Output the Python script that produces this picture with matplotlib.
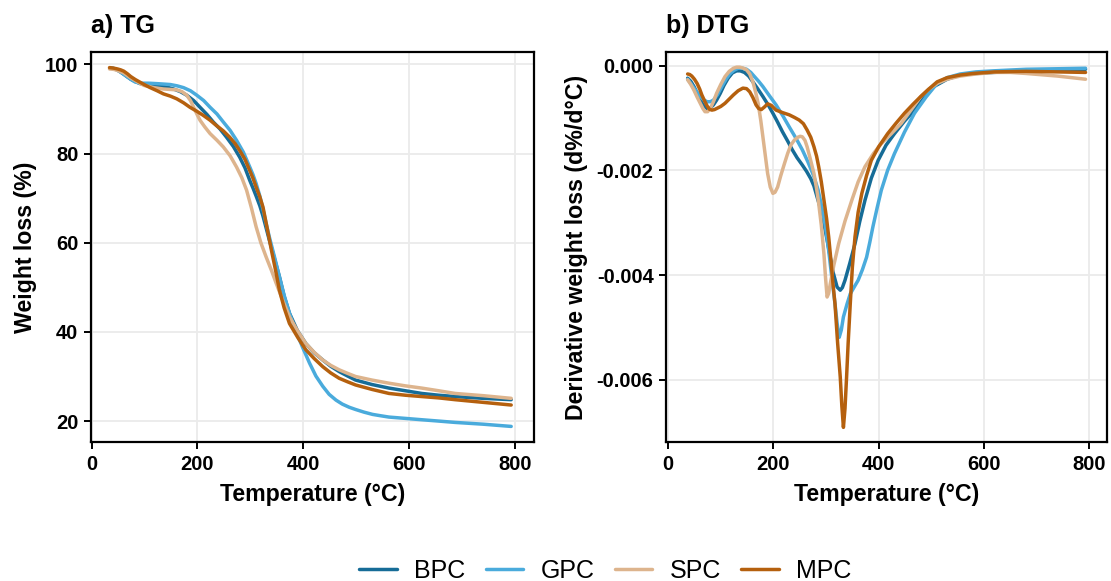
import matplotlib
matplotlib.use("Agg")
import matplotlib.pyplot as plt
from matplotlib.ticker import FuncFormatter

plt.rcParams['font.family'] = ['Liberation Sans', 'DejaVu Sans']
plt.rcParams['axes.unicode_minus'] = False

samples = ['BPC', 'GPC', 'SPC', 'MPC']
colors = {'BPC': '#166c97', 'GPC': '#4aabdc', 'SPC': '#ddb48d', 'MPC': '#b5600e'}

# TG curves (temperature in C, weight loss in %)
tg_bpc_t = [36, 42, 48, 55, 61, 68, 74, 82, 92, 108, 124, 140, 155, 168, 180, 193, 205, 218, 230,
            243, 255, 268, 280, 290, 299, 305, 311, 318, 324, 330, 336, 346, 355, 364, 374, 389,
            405, 421, 437, 452, 468, 484, 499, 530, 562, 593, 624, 656, 687, 740, 793]
tg_bpc_w = [99.2, 99.1, 98.8, 98.3, 97.8, 97.2, 96.7, 96.2, 95.7, 95.5, 95.3, 95.0, 94.5, 93.9,
            93.1, 91.9, 90.4, 88.8, 87.1, 85.5, 83.7, 81.6, 79.2, 76.8, 74.0, 72.3, 70.5, 68.3,
            66.0, 63.3, 60.6, 56.3, 52.4, 48.0, 44.2, 40.3, 37.4, 35.3, 33.7, 32.3, 31.1, 30.1,
            29.2, 28.2, 27.4, 26.8, 26.2, 25.8, 25.5, 25.1, 24.8]

tg_gpc_t = [36, 42, 48, 55, 61, 68, 74, 82, 92, 108, 124, 137, 149, 162, 174, 187, 199, 212, 224,
            237, 249, 262, 274, 287, 299, 305, 311, 318, 324, 330, 336, 346, 355, 364, 374, 386,
            399, 412, 424, 437, 449, 462, 474, 487, 499, 515, 531, 546, 562, 593, 624, 656, 687,
            740, 793]
tg_gpc_w = [99.2, 99.1, 98.8, 98.3, 97.8, 97.2, 96.7, 96.1, 95.8, 95.8, 95.7, 95.6, 95.5, 95.2,
            94.8, 94.1, 93.1, 91.9, 90.4, 88.9, 87.1, 85.2, 83.0, 80.3, 77.0, 75.3, 73.3, 70.5,
            67.5, 64.3, 61.3, 56.7, 52.4, 48.2, 44.2, 40.2, 36.5, 33.0, 30.1, 27.8, 26.0, 24.7,
            23.8, 23.1, 22.6, 22.0, 21.5, 21.2, 20.9, 20.6, 20.3, 20.0, 19.7, 19.3, 18.8]

tg_spc_t = [34, 42, 48, 55, 61, 68, 74, 80, 90, 99, 118, 136, 149, 161, 171, 180, 187, 193, 199,
            205, 214, 224, 237, 249, 262, 274, 284, 293, 302, 311, 320, 330, 340, 349, 362, 374,
            390, 405, 421, 437, 452, 468, 484, 499, 530, 562, 593, 624, 656, 687, 740, 793]
tg_spc_w = [99.0, 98.9, 98.7, 98.4, 98.1, 97.5, 97.0, 96.6, 95.9, 95.3, 94.8, 94.5, 94.4, 94.3,
            93.9, 93.1, 91.9, 90.4, 88.9, 87.5, 86.0, 84.5, 83.0, 81.5, 79.5, 77.0, 74.6, 71.8,
            67.9, 63.6, 60.0, 56.8, 53.8, 50.9, 46.9, 43.4, 40.1, 37.4, 35.4, 33.7, 32.5, 31.5,
            30.7, 30.0, 29.2, 28.5, 27.9, 27.4, 26.8, 26.2, 25.7, 25.1]

tg_mpc_t = [34, 41, 49, 55, 61, 68, 74, 83, 92, 101, 111, 124, 136, 149, 161, 174, 186, 199, 211,
            224, 236, 249, 261, 271, 280, 290, 299, 305, 311, 318, 324, 332, 340, 348, 355, 364,
            374, 390, 405, 421, 437, 452, 468, 484, 499, 530, 562, 593, 624, 656, 687, 740, 793]
tg_mpc_w = [99.3, 99.2, 99.0, 98.8, 98.5, 97.9, 97.3, 96.6, 96.0, 95.4, 94.8, 94.1, 93.4, 92.9,
            92.3, 91.4, 90.4, 89.5, 88.6, 87.5, 86.3, 85.1, 83.7, 82.3, 80.7, 78.7, 76.2, 74.5,
            72.5, 70.3, 68.0, 63.2, 58.3, 53.7, 49.4, 45.4, 41.9, 38.7, 36.0, 34.0, 32.2, 30.8,
            29.6, 28.8, 28.1, 27.1, 26.2, 25.8, 25.5, 25.2, 24.8, 24.2, 23.6]

# DTG curves (derivative weight loss, x1e-3 %/C)
dtg_bpc_t = [37, 43, 49, 55, 61, 67, 74, 80, 86, 92, 99, 106, 114, 122, 130, 137, 145, 153, 161,
             170, 180, 190, 199, 208, 217, 227, 236, 245, 255, 263, 271, 277, 283, 290, 296, 302,
             308, 314, 321, 327, 331, 336, 345, 355, 364, 374, 386, 399, 414, 430, 449, 468, 487,
             505, 530, 555, 585, 618, 680, 740, 793]
dtg_bpc_d = [-0.24, -0.30, -0.40, -0.52, -0.66, -0.76, -0.82, -0.81, -0.75, -0.66, -0.53, -0.38,
             -0.24, -0.14, -0.10, -0.10, -0.13, -0.20, -0.31, -0.44, -0.59, -0.75, -0.91, -1.08,
             -1.26, -1.44, -1.61, -1.76, -1.90, -2.02, -2.16, -2.30, -2.51, -2.75, -3.02, -3.33,
             -3.66, -3.97, -4.23, -4.29, -4.24, -4.10, -3.78, -3.40, -2.98, -2.57, -2.15, -1.81,
             -1.52, -1.30, -1.06, -0.85, -0.60, -0.40, -0.26, -0.18, -0.15, -0.13, -0.10, -0.08,
             -0.07]

dtg_gpc_t = [37, 43, 49, 55, 61, 67, 74, 80, 86, 94, 102, 110, 117, 125, 133, 141, 149, 157, 164,
             172, 180, 192, 205, 218, 230, 243, 255, 266, 277, 285, 292, 299, 305, 311, 317, 321,
             325, 329, 333, 340, 346, 354, 361, 369, 377, 383, 389, 397, 405, 417, 430, 449, 468,
             490, 511, 530, 555, 585, 618, 680, 740, 793]
dtg_gpc_d = [-0.26, -0.34, -0.43, -0.51, -0.59, -0.65, -0.69, -0.69, -0.66, -0.55, -0.40, -0.26,
             -0.16, -0.09, -0.05, -0.05, -0.07, -0.13, -0.21, -0.30, -0.40, -0.57, -0.75, -0.96,
             -1.17, -1.39, -1.61, -1.85, -2.12, -2.38, -2.70, -3.08, -3.53, -4.05, -4.55, -4.92,
             -5.19, -5.05, -4.80, -4.55, -4.36, -4.22, -4.10, -3.90, -3.66, -3.38, -3.08, -2.72,
             -2.38, -2.00, -1.68, -1.27, -0.91, -0.60, -0.34, -0.23, -0.16, -0.12, -0.10, -0.07,
             -0.06, -0.05]

dtg_spc_t = [37, 43, 49, 55, 61, 66, 70, 75, 80, 86, 92, 100, 108, 116, 124, 130, 136, 143, 149,
             155, 161, 166, 171, 176, 180, 185, 189, 194, 199, 203, 208, 214, 221, 227, 233, 240,
             246, 251, 255, 260, 264, 270, 277, 282, 286, 291, 296, 299, 302, 305, 308, 315, 324,
             336, 349, 361, 374, 390, 405, 424, 443, 462, 480, 495, 511, 530, 555, 585, 618, 650,
             680, 740, 793]
dtg_spc_d = [-0.27, -0.36, -0.47, -0.60, -0.72, -0.82, -0.88, -0.88, -0.82, -0.69, -0.53, -0.36,
             -0.21, -0.11, -0.05, -0.03, -0.03, -0.05, -0.08, -0.16, -0.31, -0.50, -0.72, -1.05,
             -1.36, -1.75, -2.06, -2.32, -2.44, -2.42, -2.32, -2.10, -1.87, -1.68, -1.52, -1.42,
             -1.37, -1.35, -1.36, -1.43, -1.55, -1.78, -2.06, -2.35, -2.63, -3.05, -3.60, -4.05,
             -4.42, -4.35, -4.17, -3.80, -3.40, -2.97, -2.57, -2.22, -1.93, -1.68, -1.49, -1.30,
             -1.10, -0.84, -0.59, -0.45, -0.34, -0.26, -0.20, -0.16, -0.13, -0.13, -0.15, -0.20,
             -0.26]

dtg_mpc_t = [37, 41, 45, 50, 55, 60, 64, 69, 74, 78, 83, 88, 92, 100, 108, 116, 124, 133, 142,
             149, 155, 161, 167, 172, 177, 183, 189, 196, 205, 218, 230, 240, 249, 257, 264, 271,
             277, 282, 286, 291, 296, 301, 305, 310, 313, 317, 322, 327, 330, 333, 336, 339, 342,
             346, 350, 355, 361, 368, 377, 386, 400, 417, 433, 449, 465, 480, 495, 511, 530, 555,
             580, 620, 680, 740, 793]
dtg_mpc_d = [-0.16, -0.17, -0.20, -0.26, -0.34, -0.45, -0.56, -0.67, -0.77, -0.83, -0.85, -0.84,
             -0.82, -0.78, -0.72, -0.64, -0.56, -0.48, -0.43, -0.44, -0.50, -0.61, -0.75, -0.82,
             -0.84, -0.79, -0.73, -0.76, -0.85, -0.90, -0.94, -0.99, -1.04, -1.11, -1.23, -1.37,
             -1.55, -1.73, -1.93, -2.22, -2.57, -2.92, -3.27, -3.80, -4.15, -4.55, -5.30, -5.95,
             -6.50, -6.91, -6.55, -5.95, -5.30, -4.55, -3.85, -3.27, -2.80, -2.44, -2.10, -1.81,
             -1.55, -1.30, -1.10, -0.91, -0.74, -0.59, -0.45, -0.31, -0.23, -0.18, -0.15, -0.12,
             -0.11, -0.12, -0.13]

tg = {'BPC': (tg_bpc_t, tg_bpc_w), 'GPC': (tg_gpc_t, tg_gpc_w),
      'SPC': (tg_spc_t, tg_spc_w), 'MPC': (tg_mpc_t, tg_mpc_w)}
dtg = {'BPC': (dtg_bpc_t, dtg_bpc_d), 'GPC': (dtg_gpc_t, dtg_gpc_d),
       'SPC': (dtg_spc_t, dtg_spc_d), 'MPC': (dtg_mpc_t, dtg_mpc_d)}

fig = plt.figure(figsize=(11.11, 5.81), dpi=100)
ax1 = fig.add_axes([0.0819, 0.2392, 0.3987, 0.6713])
ax2 = fig.add_axes([0.5995, 0.2392, 0.3970, 0.6713])


def style_axes(ax):
    ax.grid(True, color='#ebebeb', linewidth=1.3)
    ax.set_axisbelow(True)
    for s in ax.spines.values():
        s.set_linewidth(1.6)
        s.set_color('black')
    ax.tick_params(axis='both', length=5, width=1.4, color='black', labelsize=14.5, pad=4)
    for lab in ax.get_xticklabels() + ax.get_yticklabels():
        lab.set_fontweight('bold')
        lab.set_color('black')


for name in samples:
    t, w = tg[name]
    ax1.plot(t, w, color=colors[name], linewidth=2.5, label=name, solid_capstyle='round',
             solid_joinstyle='round')
    t, d = dtg[name]
    ax2.plot(t, [v / 1000 for v in d], color=colors[name], linewidth=2.5, label=name,
             solid_capstyle='round', solid_joinstyle='round')

ax1.set_xlim(-1, 836)
ax1.set_ylim(15.3, 102.8)
ax1.set_xticks([0, 200, 400, 600, 800])
ax1.set_yticks([20, 40, 60, 80, 100])
ax1.set_xlabel('Temperature (°C)', fontsize=16.7, fontweight='bold', labelpad=7)
ax1.set_ylabel('Weight loss (%)', fontsize=16.7, fontweight='bold', labelpad=6)
ax1.set_title('a) TG', loc='left', fontsize=18, fontweight='bold', pad=14)

ax2.set_xlim(-4, 834)
ax2.set_ylim(-0.00719, 0.00026)
ax2.set_xticks([0, 200, 400, 600, 800])
ax2.set_yticks([-0.006, -0.004, -0.002, 0.0])
ax2.yaxis.set_major_formatter(FuncFormatter(lambda v, p: '%.3f' % v if abs(v) > 1e-9 else '0.000'))
ax2.set_xlabel('Temperature (°C)', fontsize=16.7, fontweight='bold', labelpad=7)
ax2.set_ylabel('Derivative weight loss (d%/d°C)', fontsize=16.7, fontweight='bold', labelpad=6)
ax2.set_title('b) DTG', loc='left', fontsize=18, fontweight='bold', pad=14)

style_axes(ax1)
style_axes(ax2)

handles, labels = ax1.get_legend_handles_labels()
fig.legend(handles, labels, loc='center', bbox_to_anchor=(0.545, 0.018), ncol=4, frameon=False,
           fontsize=18, handlelength=1.5, columnspacing=0.8, handletextpad=0.7)

fig.savefig('out.png', dpi=100)
